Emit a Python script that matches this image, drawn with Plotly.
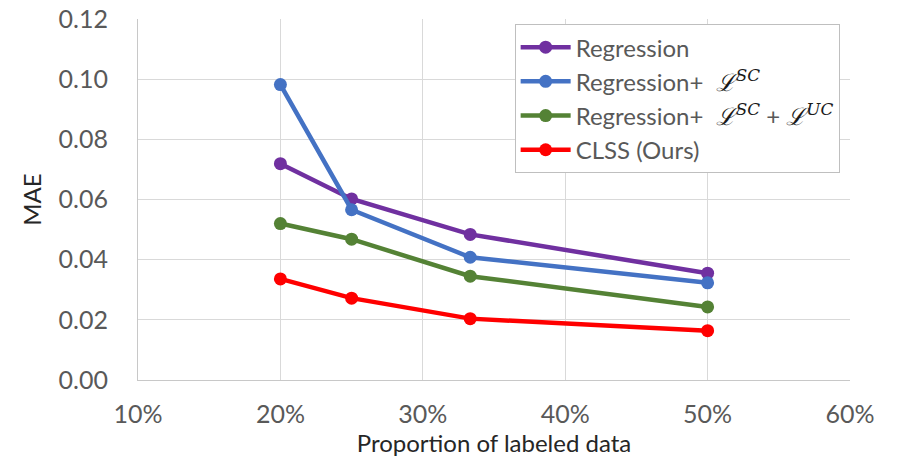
import plotly.graph_objects as go

x_vals = [20, 25, 33.33, 50]
regression = [0.0719, 0.0602, 0.0484, 0.0355]
reg_sc = [0.0982, 0.0566, 0.0408, 0.0323]
reg_sc_uc = [0.0520, 0.0468, 0.0345, 0.0243]
clss = [0.0336, 0.0272, 0.0204, 0.0164]

L = '<span style="font-family:\'DejaVu Serif\';color:#1a1a1a"><i>ℒ<sup>SC</sup></i></span>'
LU = '<span style="font-family:\'DejaVu Serif\';color:#1a1a1a"><i>ℒ<sup>UC</sup></i></span>'
names = ["Regression", "Regression+  " + L, "Regression+  " + L + " + " + LU, "CLSS (Ours)"]
series = [regression, reg_sc, reg_sc_uc, clss]
colors = ["#7030A0", "#4472C4", "#548235", "#FF0000"]

x_ticks = [10, 20, 30, 40, 50, 60]
x_ticklabels = ["10%", "20%", "30%", "40%", "50%", "60%"]
y_ticks = [0.00, 0.02, 0.04, 0.06, 0.08, 0.10, 0.12]

fig = go.Figure()
for n, s, c in zip(names, series, colors):
    fig.add_trace(go.Scatter(x=x_vals, y=s, name=n, mode="lines+markers",
                             line=dict(color=c, width=4.5),
                             marker=dict(color=c, size=13)))

fig.update_layout(
    width=902, height=462,
    margin=dict(l=138, r=52, t=19, b=82),
    plot_bgcolor="white", paper_bgcolor="white",
    font=dict(family="Lato", size=25, color="#595959"),
    showlegend=True,
    legend=dict(x=0.529, y=0.986, xanchor="left", yanchor="top",
                bordercolor="#bfbfbf", borderwidth=1, bgcolor="white",
                itemwidth=50,
                font=dict(size=24, color="#595959"), tracegroupgap=0),
    xaxis=dict(range=[10, 60], tickvals=x_ticks, ticktext=x_ticklabels,
               showgrid=True, gridcolor="#d9d9d9", gridwidth=1,
               showline=True, linecolor="#c8c8c8", linewidth=1,
               zeroline=False, ticks="", ticklen=0, automargin=False,
               ticklabelstandoff=12,
               title=dict(text="Proportion of labeled data", font=dict(size=24, color="#262626"), standoff=4)),
    yaxis=dict(range=[0, 0.12], tickvals=y_ticks, tickformat=".2f",
               showgrid=True, gridcolor="#d9d9d9", gridwidth=1,
               showline=True, linecolor="#c8c8c8", linewidth=1,
               zeroline=False, ticks="", ticklen=0, automargin=False,
               ticklabelstandoff=24,
               title=dict(text="MAE", font=dict(size=24, color="#262626"), standoff=10)),
)
fig.write_html("out.html", config={"displayModeBar": False},
               post_script="document.body.style.margin='0';")
